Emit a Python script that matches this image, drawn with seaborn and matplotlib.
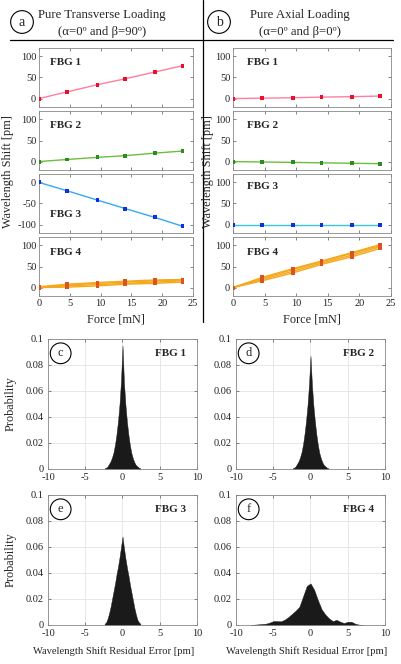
import numpy as np
import pandas as pd
import matplotlib
matplotlib.use("Agg")
import matplotlib.pyplot as plt
from matplotlib.lines import Line2D
import seaborn as sns

# ---- data ----
force = [0, 4.6, 9.5, 14.0, 18.8, 23.3]

# pure transverse loading (left column)
trans_fbg1 = [0, 16, 33, 47, 63, 78]
trans_fbg2 = [0, 5, 10, 14, 20, 25]
trans_fbg3 = [0, -20, -42, -62, -83, -104]
trans_fbg4_t1 = [0, 1, 4, 8, 10, 13]
trans_fbg4_t2 = [0, 4, 7, 10, 13, 16]
trans_fbg4_t3 = [1, 6, 10, 13, 16, 18]
trans_fbg4_t4 = [2, 8, 12, 15, 18, 19]

# pure axial loading (right column)
axial_fbg1 = [0, 1, 2, 3.5, 4.5, 6]
axial_fbg2 = [0, -1, -2, -3, -4, -5]
axial_fbg3 = [0, 0, 0, 0, 0, 0]
axial_fbg4_t1 = [0, 16, 35, 55, 73, 93]
axial_fbg4_t2 = [0, 19, 39, 58, 77, 97]
axial_fbg4_t3 = [0, 22, 43, 61, 81, 100]
axial_fbg4_t4 = [0, 24, 45, 63, 83, 102]

# residual error histograms (bin centre, probability)
err_narrow = [-2.4, -2.2, -2.0, -1.8, -1.6, -1.4, -1.2, -1.0, -0.8, -0.6, -0.4, -0.2, 0,
              0.2, 0.4, 0.6, 0.8, 1.0, 1.2, 1.4, 1.6, 1.8, 2.0, 2.2, 2.4]
prob_fbg1 = [0.0005, 0.001, 0.002, 0.004, 0.006, 0.009, 0.013, 0.019, 0.027, 0.037, 0.050, 0.068, 0.095,
             0.066, 0.049, 0.036, 0.026, 0.018, 0.012, 0.008, 0.005, 0.003, 0.002, 0.001, 0.0005]
prob_fbg2 = [0.0005, 0.001, 0.002, 0.004, 0.006, 0.009, 0.013, 0.019, 0.027, 0.037, 0.049, 0.065, 0.087,
             0.064, 0.048, 0.036, 0.026, 0.018, 0.012, 0.008, 0.005, 0.003, 0.002, 0.001, 0.0005]
prob_fbg3 = [0.001, 0.002, 0.005, 0.009, 0.014, 0.020, 0.026, 0.032, 0.039, 0.045, 0.052, 0.060, 0.068,
             0.059, 0.051, 0.044, 0.038, 0.031, 0.025, 0.019, 0.013, 0.008, 0.004, 0.002, 0.001]
err_wide = [-8, -7.5, -7, -6.5, -6, -5.5, -5, -4.5, -4, -3.5, -3, -2.5, -2, -1.5, -1, -0.5, 0,
            0.5, 1, 1.5, 2, 2.5, 3, 3.5, 4, 4.5, 5, 5.5, 6, 6.5, 7]
prob_fbg4 = [0, 0.0003, 0.0005, 0.0008, 0.001, 0.0018, 0.003, 0.003, 0.0028, 0.004, 0.006, 0.0085,
             0.011, 0.014, 0.022, 0.030, 0.032, 0.027, 0.019, 0.012, 0.008, 0.005, 0.003, 0.004,
             0.0025, 0.0015, 0.0025, 0.0025, 0.001, 0.0003, 0]

# ---- style ----
sns.set_style("ticks")
plt.rcParams["font.family"] = ["Liberation Serif", "DejaVu Serif"]
plt.rcParams["axes.unicode_minus"] = False
plt.rcParams["xtick.direction"] = "in"
plt.rcParams["ytick.direction"] = "in"
plt.rcParams["xtick.top"] = True
plt.rcParams["ytick.right"] = True
plt.rcParams["xtick.major.size"] = 2.5
plt.rcParams["ytick.major.size"] = 2.5
plt.rcParams["xtick.major.width"] = 0.5
plt.rcParams["ytick.major.width"] = 0.5
plt.rcParams["xtick.color"] = "#555555"
plt.rcParams["ytick.color"] = "#555555"
plt.rcParams["xtick.labelcolor"] = "#222222"
plt.rcParams["ytick.labelcolor"] = "#222222"
plt.rcParams["xtick.labelsize"] = 7.5
plt.rcParams["ytick.labelsize"] = 7.5
plt.rcParams["axes.edgecolor"] = "#888888"
plt.rcParams["axes.linewidth"] = 0.6

W, H = 402, 664
fig = plt.figure(figsize=(W / 100, H / 100), dpi=100)


def px_axes(x0, y0, x1, y1):
    return fig.add_axes([x0 / W, 1 - y1 / H, (x1 - x0) / W, (y1 - y0) / H])


def circled(x, y, letter, size=9, ax=None):
    kw = dict(ha="center", va="center", fontsize=size,
              bbox=dict(boxstyle="circle,pad=0.35", fc="white", ec="black", lw=0.8))
    if ax is None:
        fig.text(x / W, 1 - y / H, letter, **kw)
    else:
        ax.text(x, y, letter, transform=ax.transAxes, **kw)


# ---- headers ----
circled(22, 22, "a", size=10)
circled(219, 22, "b", size=10)
fig.text(102 / W, 1 - 15 / H, "Pure Transverse Loading", ha="center", va="center", fontsize=9.2)
fig.text(102 / W, 1 - 32 / H, "(α=0º and β=90º)", ha="center", va="center", fontsize=9.2)
fig.text(300 / W, 1 - 15 / H, "Pure Axial Loading", ha="center", va="center", fontsize=9.2)
fig.text(300 / W, 1 - 32 / H, "(α=0º and β=0º)", ha="center", va="center", fontsize=9.2)
fig.add_artist(Line2D([10 / W, 393 / W], [1 - 40 / H, 1 - 40 / H], color="black", lw=0.9))
fig.add_artist(Line2D([203 / W, 203 / W], [1, 1 - 322 / H], color="black", lw=0.9))

# ---- force panels ----
tops = [48, 111, 174, 237]
ph = 59
cols = [(39, 193), (233, 391)]

panels = [
    # (col, row, series list, line color, marker color, ylim, yticks, label y)
    (0, 0, [trans_fbg1], "#ff7fa0", "#e8102a", (-20, 120), [0, 50, 100], 0.75),
    (0, 1, [trans_fbg2], "#6cbf3c", "#2e8b22", (-20, 120), [0, 50, 100], 0.75),
    (0, 2, [trans_fbg3], "#35aaf0", "#1030e0", (-120, 20), [-100, -50, 0], 0.32),
    (0, 3, [trans_fbg4_t1, trans_fbg4_t2, trans_fbg4_t3, trans_fbg4_t4],
     "#f5a81c", "#d9541e", (-20, 120), [0, 50, 100], 0.73),
    (1, 0, [axial_fbg1], "#ff7fa0", "#e8102a", (-20, 120), [0, 50, 100], 0.75),
    (1, 1, [axial_fbg2], "#6cbf3c", "#2e8b22", (-20, 120), [0, 50, 100], 0.75),
    (1, 2, [axial_fbg3], "#3cc4d8", "#1030e0", (-20, 120), [0, 50, 100], 0.78),
    (1, 3, [axial_fbg4_t1, axial_fbg4_t2, axial_fbg4_t3, axial_fbg4_t4],
     "#f5a81c", "#d9541e", (-20, 120), [0, 50, 100], 0.73),
]

for col, row, series, lc, mc, ylim, yt, ly in panels:
    x0, x1 = cols[col]
    ax = px_axes(x0, tops[row], x1, tops[row] + ph)
    rows = []
    for t, s in enumerate(series):
        for f, v in zip(force, s):
            rows.append({"force": f, "shift": v, "trial": t})
    df = pd.DataFrame(rows)
    sns.lineplot(data=df, x="force", y="shift", units="trial", estimator=None,
                 color=lc, lw=1.0, ax=ax, legend=False)
    sns.scatterplot(data=df, x="force", y="shift", color=mc, s=8, marker="s",
                    edgecolor="none", ax=ax, legend=False, zorder=3)
    ax.set_xlim(0, 25)
    ax.set_ylim(*ylim)
    ax.set_xticks([0, 5, 10, 15, 20, 25])
    ax.set_yticks(yt)
    ax.set_xlabel("")
    ax.set_ylabel("")
    ax.tick_params(pad=2)
    if row < 3:
        ax.set_xticklabels([])
    ax.text(0.07 if col == 0 else 0.09, ly, f"FBG {row + 1}", transform=ax.transAxes,
            fontsize=8, fontweight="bold", va="center", ha="left")

fig.text(8 / W, 1 - 172 / H, "Wavelength Shift [pm]", rotation=90, ha="center", va="center", fontsize=8.8)
fig.text(208 / W, 1 - 172 / H, "Wavelength Shift [pm]", rotation=90, ha="center", va="center", fontsize=8.8)
fig.text(116 / W, 1 - 320 / H, "Force [mN]", ha="center", va="center", fontsize=8.8)
fig.text(312 / W, 1 - 320 / H, "Force [mN]", ha="center", va="center", fontsize=8.8)

# ---- histograms ----
hists = [
    ("c", "FBG 1", err_narrow, prob_fbg1, 0.2, (48, 339, 197, 469)),
    ("d", "FBG 2", err_narrow, prob_fbg2, 0.2, (236, 339, 385, 469)),
    ("e", "FBG 3", err_narrow, prob_fbg3, 0.2, (48, 495, 197, 625)),
    ("f", "FBG 4", err_wide, prob_fbg4, 0.5, (236, 495, 385, 625)),
]

for letter, name, xs, ps, bw, box in hists:
    ax = px_axes(*box)
    ax.grid(True, color="#e3e3e3", lw=0.6)
    ax.set_axisbelow(True)
    sns.histplot(x=xs, weights=ps, binwidth=bw, binrange=(xs[0] - bw / 2, xs[-1] + bw / 2),
                 element="poly", fill=True, color="#1a1a1a", alpha=1.0, lw=0.3, ax=ax)
    ax.set_xlim(-10, 10)
    ax.set_ylim(0, 0.1)
    ax.set_xticks([-10, -5, 0, 5, 10])
    ax.set_yticks([0, 0.02, 0.04, 0.06, 0.08, 0.1])
    ax.set_yticklabels(["0", "0.02", "0.04", "0.06", "0.08", "0.1"])
    ax.set_xlabel("")
    ax.set_ylabel("")
    ax.tick_params(pad=3)
    ax.text(0.82, 0.89, name, transform=ax.transAxes, fontsize=8, fontweight="bold",
            ha="center", va="center")
    circled(0.085, 0.89, letter, size=9, ax=ax)

fig.text(11 / W, 1 - 404 / H, "Probability", rotation=90, ha="center", va="center", fontsize=8.8)
fig.text(11 / W, 1 - 560 / H, "Probability", rotation=90, ha="center", va="center", fontsize=8.8)
fig.text(114 / W, 1 - 651 / H, "Wavelength Shift Residual Error [pm]", ha="center", va="center", fontsize=7.6)
fig.text(307 / W, 1 - 651 / H, "Wavelength Shift Residual Error [pm]", ha="center", va="center", fontsize=7.6)

fig.savefig("out.png", dpi=100)
